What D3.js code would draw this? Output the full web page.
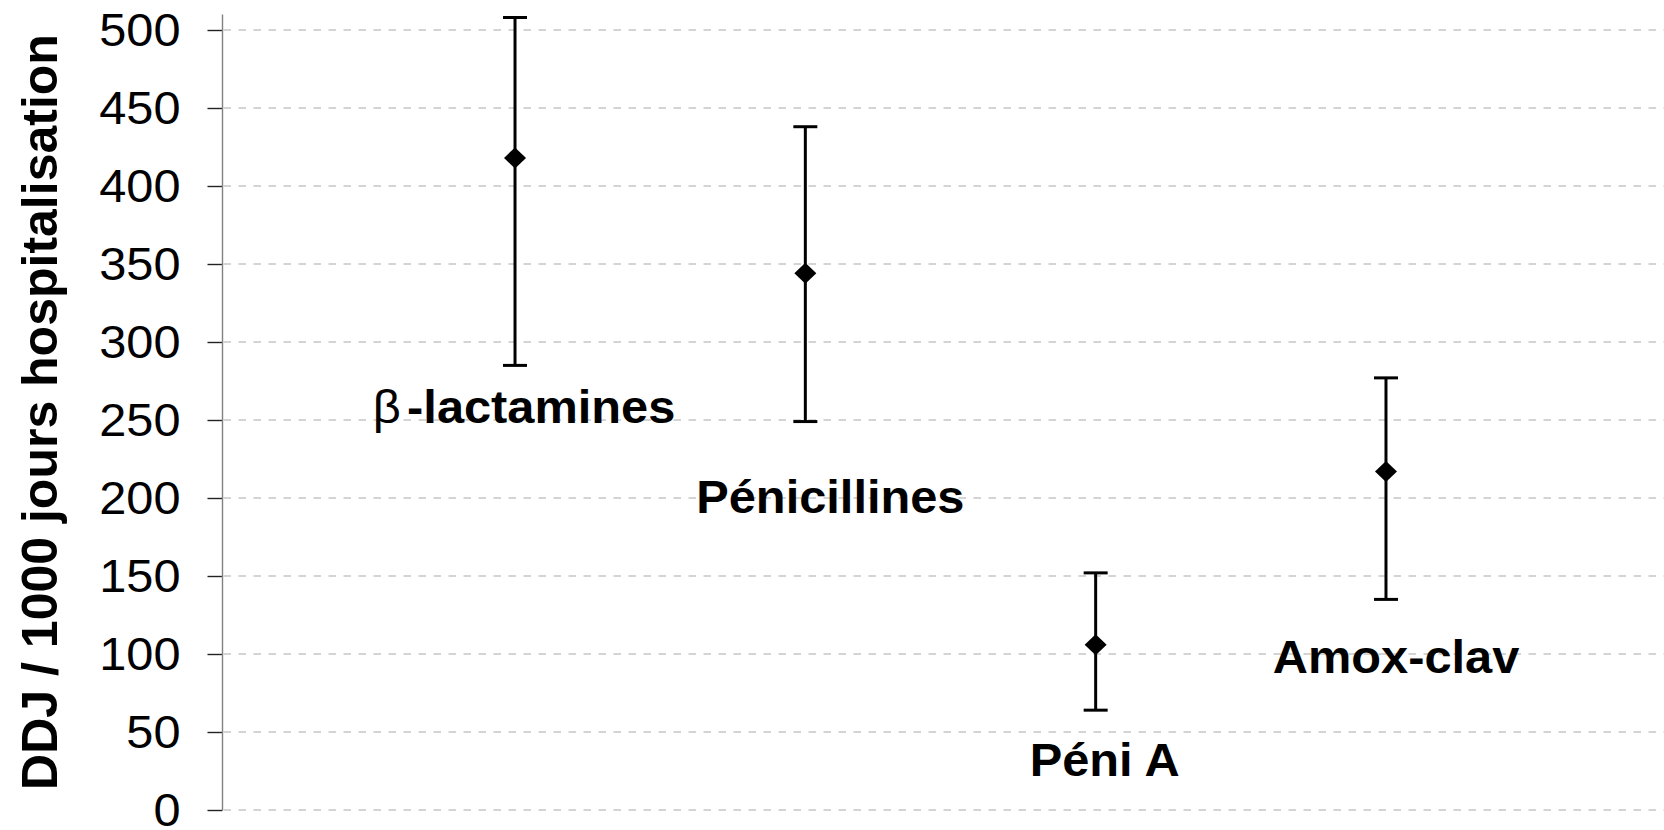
<!DOCTYPE html>
<html lang="fr">
<head>
<meta charset="utf-8">
<title>DDJ / 1000 jours hospitalisation</title>
<script src="https://cdn.jsdelivr.net/npm/d3@7"></script>
<style>
  html, body { margin: 0; padding: 0; background: #fff; }
  svg { display: block; }
  text { font-family: "Liberation Sans", Arial, Helvetica, sans-serif; fill: #000; }
</style>
</head>
<body>
<svg id="chart" width="1664" height="830"></svg>
<script>
// Antibiotic classes (x order)
const categories = ["β-lactamines", "Pénicillines", "Péni A", "Amox-clav"];
// Central value and interval bounds, DDJ / 1000 jours d'hospitalisation
const meanValues  = [418, 344, 106, 217];
const upperValues = [508, 438, 152, 277];
const lowerValues = [285, 249, 64, 135];
// Y axis ticks
const yTicks = [0, 50, 100, 150, 200, 250, 300, 350, 400, 450, 500];
const yTitle = "DDJ / 1000 jours hospitalisation";

// Label placement for each class: horizontal shift (px) from the marker,
// and the value level of the label baseline.
const labelLayout = [
  { dx: 9,  level: 248 },
  { dx: 25, level: 190.5 },
  { dx: 9,  level: 22 },
  { dx: 10, level: 88 }
];

const svg = d3.select("#chart");
const W = 1664, H = 830;
const axisX = 222.5;
const xStretch = 1.06;   // text is drawn slightly wide

const y = d3.scaleLinear().domain([0, 510]).range([810, 14.4]);
const x = d3.scaleLinear().domain([0, 5]).range([224.7, 1676.3]);

// Dashed horizontal gridlines
svg.append("g").attr("class", "grid")
  .selectAll("line").data(yTicks).join("line")
  .attr("x1", axisX + 1).attr("x2", W)
  .attr("y1", d => y(d)).attr("y2", d => y(d))
  .attr("stroke", "#c6c6c6").attr("stroke-width", 1.3)
  .attr("stroke-dasharray", "7.5,7.5");

// Y axis built with d3.axisLeft, then styled
const yAxis = d3.axisLeft(y).tickValues(yTicks).tickSize(15).tickPadding(27).tickSizeOuter(0);
const gAxis = svg.append("g").attr("transform", `translate(${axisX},0)`).call(yAxis);
gAxis.select(".domain").remove();
gAxis.append("line")
  .attr("x1", 0).attr("x2", 0).attr("y1", y(0)).attr("y2", y(510))
  .attr("stroke", "#808080").attr("stroke-width", 1.4);
gAxis.selectAll(".tick line").attr("stroke", "#222").attr("stroke-width", 1.4);
gAxis.selectAll(".tick text")
  .attr("font-family", "'Liberation Sans', Arial, sans-serif")
  .attr("font-size", 46).attr("fill", "#000")
  .attr("dy", "0.345em")
  .each(function () {
    const t = d3.select(this);
    const tx = +t.attr("x");
    t.attr("x", 0).attr("transform", `translate(${tx},0) scale(${xStretch},1)`);
  });

// Y axis title
svg.append("text")
  .attr("transform", `translate(57,412) rotate(-90)`)
  .attr("text-anchor", "middle")
  .attr("font-size", 50).attr("font-weight", "bold")
  .text(yTitle);

// Error bars
const rows = categories.map((c, i) => ({
  name: c, i, mean: meanValues[i], hi: upperValues[i], lo: lowerValues[i]
}));
const bars = svg.append("g").attr("class", "errorbars");
const capHalf = 12;
bars.selectAll("line.stem").data(rows).join("line").attr("class", "stem")
  .attr("x1", d => x(d.i + 1)).attr("x2", d => x(d.i + 1))
  .attr("y1", d => y(d.lo)).attr("y2", d => y(d.hi))
  .attr("stroke", "#000").attr("stroke-width", 3);
bars.selectAll("line.capHi").data(rows).join("line").attr("class", "capHi")
  .attr("x1", d => x(d.i + 1) - capHalf).attr("x2", d => x(d.i + 1) + capHalf)
  .attr("y1", d => y(d.hi)).attr("y2", d => y(d.hi))
  .attr("stroke", "#000").attr("stroke-width", 3);
bars.selectAll("line.capLo").data(rows).join("line").attr("class", "capLo")
  .attr("x1", d => x(d.i + 1) - capHalf).attr("x2", d => x(d.i + 1) + capHalf)
  .attr("y1", d => y(d.lo)).attr("y2", d => y(d.lo))
  .attr("stroke", "#000").attr("stroke-width", 3);

// Diamond markers at the central value
svg.append("g").selectAll("path").data(rows).join("path")
  .attr("transform", d => `translate(${x(d.i + 1)},${y(d.mean)})`)
  .attr("d", "M0,-10.5L11,0L0,10.5L-11,0Z")
  .attr("fill", "#000");

// Category labels
const labels = svg.append("g").attr("class", "labels");
rows.forEach((d, i) => {
  const L = labelLayout[i];
  const t = labels.append("text")
    .attr("transform", `translate(${x(d.i + 1) + L.dx},${y(L.level)}) scale(${xStretch},1)`)
    .attr("text-anchor", "middle")
    .attr("font-size", 46).attr("font-weight", "bold");
  if (d.name.startsWith("β")) {
    t.append("tspan").attr("font-weight", "normal").text("β");
    t.append("tspan").attr("dx", 6).text(d.name.slice(1));
  } else {
    t.text(d.name);
  }
});
</script>
</body>
</html>
